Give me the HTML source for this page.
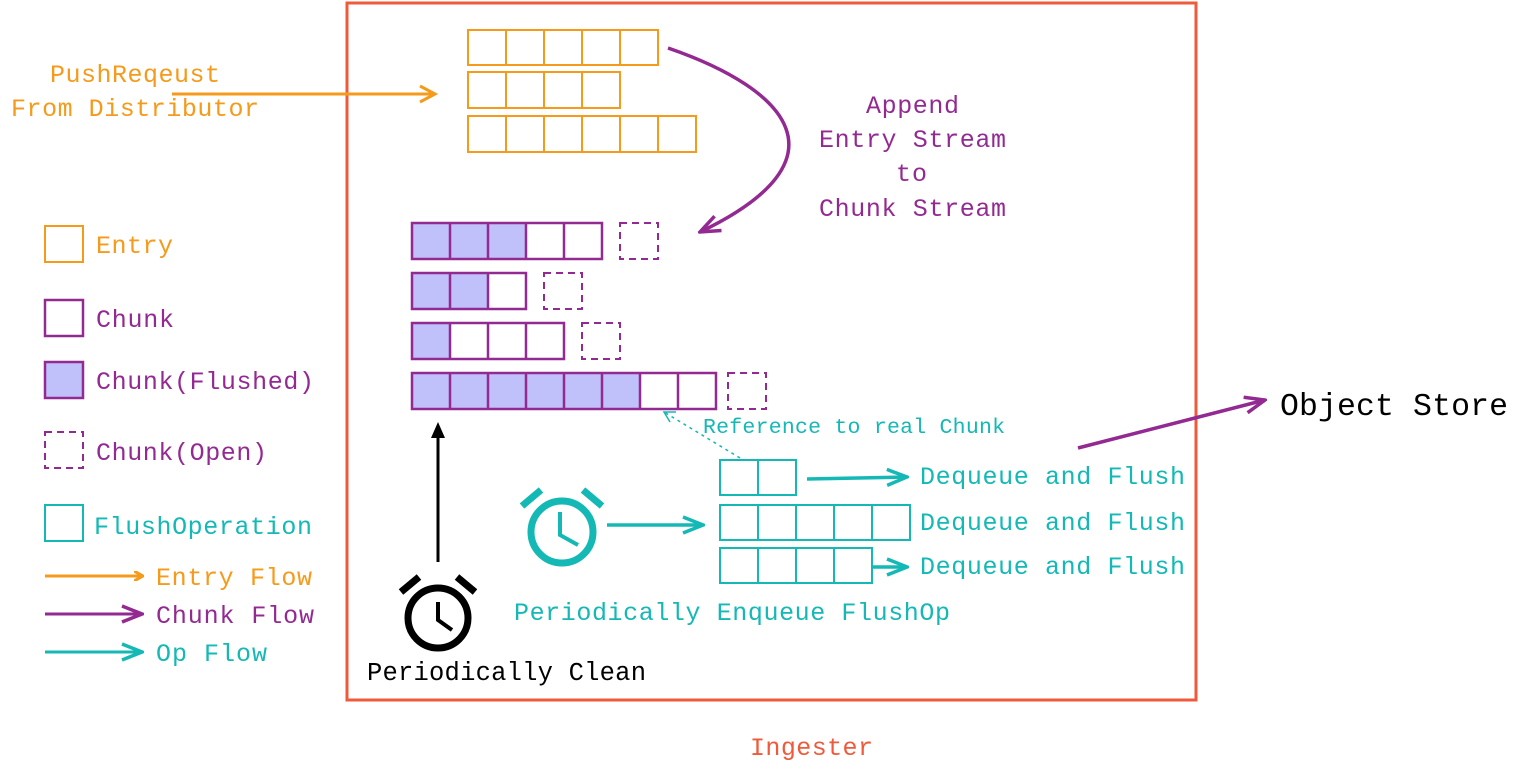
<html><head><style>body{margin:0;background:#fff}text{font-family:"Liberation Mono",monospace}</style></head><body>
<svg width="1522" height="776" viewBox="0 0 1522 776" xmlns="http://www.w3.org/2000/svg">
<defs>
<marker id="ao" markerWidth="10" markerHeight="10" refX="8" refY="5" orient="auto" markerUnits="userSpaceOnUse"><path d="M0,0 L9,5 L0,10" fill="none" stroke="#f59a1b" stroke-width="3"/></marker>
<marker id="ap" markerWidth="24" markerHeight="20" refX="22" refY="10" orient="auto" markerUnits="userSpaceOnUse"><path d="M2,2 L22,10 L2,18" fill="none" stroke="#932a92" stroke-width="3.5"/></marker>
<marker id="at" markerWidth="24" markerHeight="20" refX="22" refY="10" orient="auto" markerUnits="userSpaceOnUse"><path d="M2,2 L22,10 L2,18" fill="none" stroke="#14b8b5" stroke-width="3.5"/></marker>
</defs>
<rect x="347" y="3" width="849" height="697" fill="none" stroke="#ef5a3c" stroke-width="3"/>
<g fill="none" stroke="#f59a1b" stroke-width="2">
<path d="M468,30h190v35h-190z M506,30v35 M544,30v35 M582,30v35 M620,30v35"/>
<path d="M468,72h152v36h-152z M506,72v36 M544,72v36 M582,72v36"/>
<path d="M468,116h228v36h-228z M506,116v36 M544,116v36 M582,116v36 M620,116v36 M658,116v36"/>
<rect x="45" y="226" width="38" height="36"/>
</g>
<g fill="#c0c0fb"><rect x="412" y="223" width="114" height="36"/><rect x="412" y="273" width="76" height="36"/><rect x="412" y="323" width="38" height="36"/><rect x="412" y="373" width="228" height="36"/><rect x="45" y="362" width="38" height="36"/></g>
<g fill="none" stroke="#932a92" stroke-width="2.5">
<path d="M412,223h190v36h-190z M450,223v36 M488,223v36 M526,223v36 M564,223v36"/>
<path d="M412,273h114v36h-114z M450,273v36 M488,273v36"/>
<path d="M412,323h152v36h-152z M450,323v36 M488,323v36 M526,323v36"/>
<path d="M412,373h304v36h-304z M450,373v36 M488,373v36 M526,373v36 M564,373v36 M602,373v36 M640,373v36 M678,373v36"/>
<rect x="45" y="300" width="38" height="36"/><rect x="45" y="362" width="38" height="36"/>
</g>
<g fill="none" stroke="#932a92" stroke-width="2" stroke-dasharray="7,5">
<rect x="620" y="223" width="38" height="36"/><rect x="544" y="273" width="38" height="36"/><rect x="582" y="323" width="38" height="36"/><rect x="728" y="373" width="38" height="36"/><rect x="45" y="432" width="38" height="36"/>
</g>
<g fill="none" stroke="#14b8b5" stroke-width="2">
<path d="M720,460h76v35h-76z M758,460v35"/>
<path d="M720,505h190v35h-190z M758,505v35 M796,505v35 M834,505v35 M872,505v35"/>
<path d="M720,548h152v35h-152z M758,548v35 M796,548v35 M834,548v35"/>
<rect x="45" y="505" width="38" height="36"/>
</g>
<line x1="172" y1="94" x2="435" y2="94" stroke="#f59a1b" stroke-width="3"/>
<path d="M420,86 L435,94 L420,102" fill="none" stroke="#f59a1b" stroke-width="3"/>
<path d="M668,48 C790,90 850,160 700,232" fill="none" stroke="#932a92" stroke-width="3.5" marker-end="url(#ap)"/>
<line x1="1078" y1="448" x2="1265" y2="400" stroke="#932a92" stroke-width="3.5" marker-end="url(#ap)"/>
<line x1="607" y1="525" x2="703" y2="525" stroke="#14b8b5" stroke-width="3.5" marker-end="url(#at)"/>
<line x1="807" y1="479" x2="907" y2="477" stroke="#14b8b5" stroke-width="3.5" marker-end="url(#at)"/>
<line x1="871" y1="567" x2="907" y2="567" stroke="#14b8b5" stroke-width="3.5" marker-end="url(#at)"/>
<path d="M740,458 L664,412" fill="none" stroke="#14b8b5" stroke-width="1.5" stroke-dasharray="3,4"/>
<path d="M676,412 L664,412 L670,422" fill="none" stroke="#14b8b5" stroke-width="1.5"/>
<line x1="438" y1="562" x2="438" y2="428" stroke="#000" stroke-width="3"/>
<path d="M431,438 L438,422 L445,438z" fill="#000"/>
<line x1="45" y1="576" x2="142" y2="576" stroke="#f59a1b" stroke-width="3" marker-end="url(#ao)"/>
<line x1="45" y1="614" x2="142" y2="614" stroke="#932a92" stroke-width="3" marker-end="url(#ap)"/>
<line x1="45" y1="652" x2="142" y2="652" stroke="#14b8b5" stroke-width="3" marker-end="url(#at)"/>
<g stroke="#000" fill="none"><circle cx="438" cy="618" r="30" stroke-width="7"/><path d="M438,602 V620 L452,630" stroke-width="4"/><path d="M401,592 L419,577 M475,592 L457,577" stroke-width="7"/></g>
<g stroke="#14b8b5" fill="none"><circle cx="562" cy="532" r="31" stroke-width="7"/><path d="M560,512 V535 L578,545" stroke-width="4"/><path d="M522,506 L541,490 M602,506 L583,490" stroke-width="7"/></g>
<g font-size="25" fill="#f59a1b" lengthAdjust="spacingAndGlyphs"><text x="50" y="82" textLength="170">PushReqeust</text><text x="11" y="116" textLength="248">From Distributor</text><text x="96" y="253" textLength="77">Entry</text><text x="156" y="585" textLength="156">Entry Flow</text></g>
<g font-size="25" fill="#932a92"><text x="866" y="113" textLength="93">Append</text><text x="819" y="147" textLength="187">Entry Stream</text><text x="896" y="181" textLength="31">to</text><text x="819" y="216" textLength="187">Chunk Stream</text>
<text x="96" y="327" textLength="78">Chunk</text><text x="96" y="389" textLength="218">Chunk(Flushed)</text><text x="96" y="460" textLength="171">Chunk(Open)</text><text x="156" y="623" textLength="158">Chunk Flow</text></g>
<g font-size="25" fill="#14b8b5"><text x="94" y="534" textLength="218">FlushOperation</text><text x="156" y="661" textLength="111">Op Flow</text>
<text x="920" y="484" textLength="265">Dequeue and Flush</text><text x="920" y="530" textLength="265">Dequeue and Flush</text><text x="920" y="574" textLength="265">Dequeue and Flush</text>
<text x="514" y="620" textLength="436">Periodically Enqueue FlushOp</text>
<text x="703" y="433" font-size="21.5" textLength="302">Reference to real Chunk</text></g>
<text x="367" y="680" font-size="25.5" fill="#000" textLength="279">Periodically Clean</text>
<text x="1280" y="415" font-size="31.5" fill="#000" textLength="228">Object Store</text>
<text x="750" y="755" font-size="25" fill="#ef5a3c" textLength="123">Ingester</text>
</svg>
</body></html>
